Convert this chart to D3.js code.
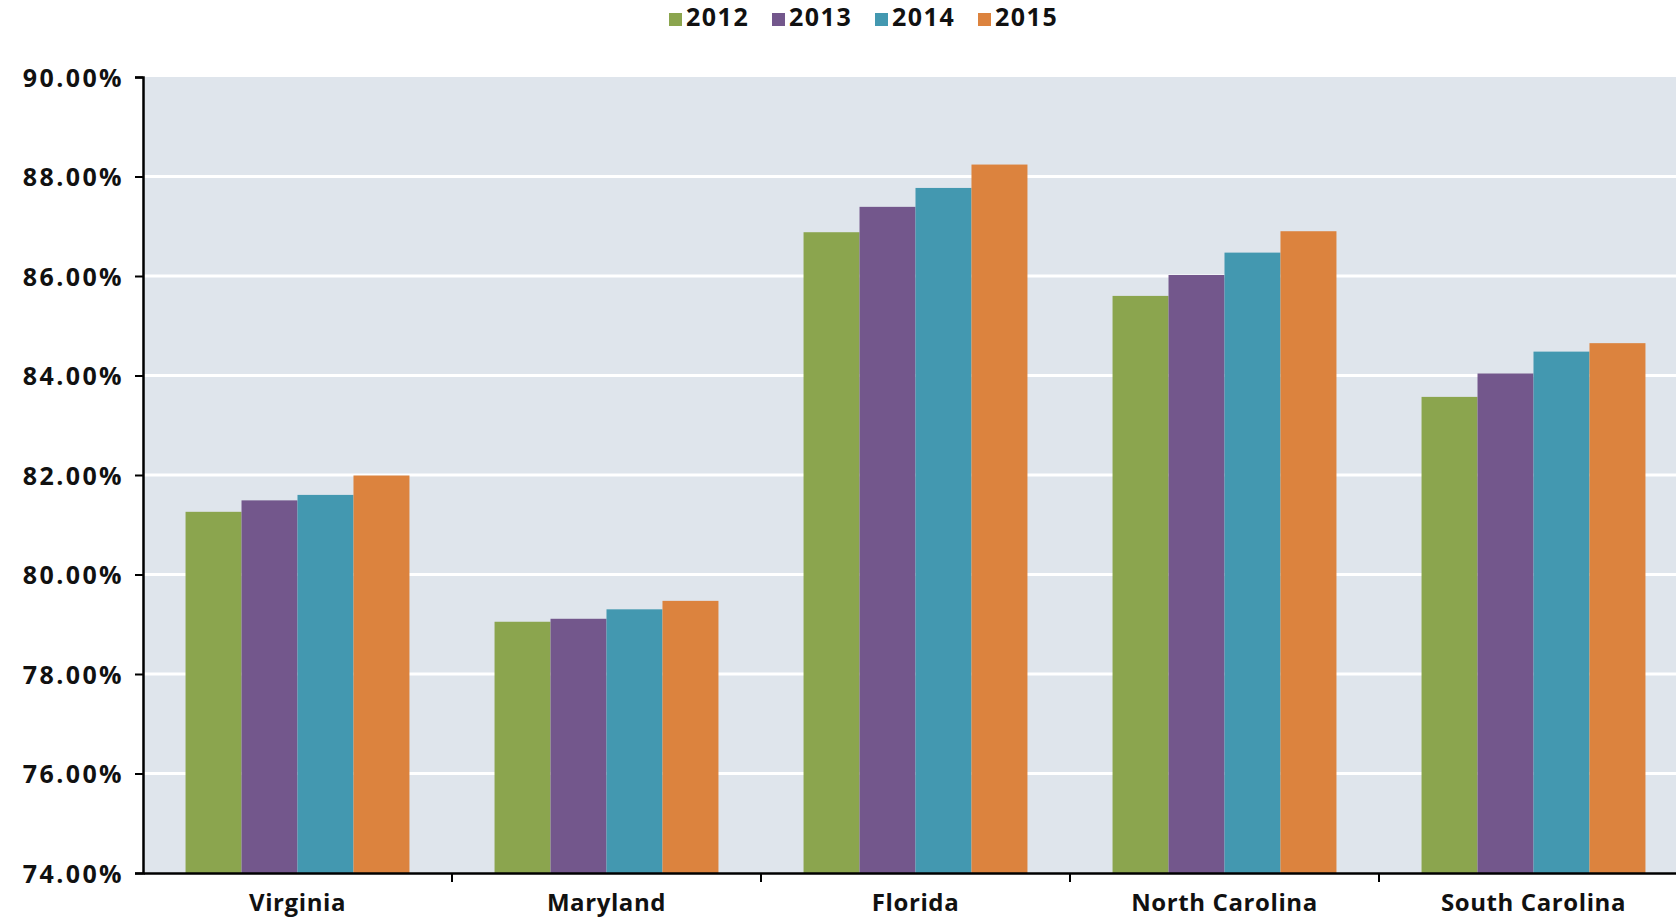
<!DOCTYPE html>
<html>
<head>
<meta charset="utf-8">
<script src="https://cdn.jsdelivr.net/npm/d3@7"></script>
<style>
  body { margin: 0; background: #fff; }
  svg { display: block; font-family: "Open Sans", "DejaVu Sans", sans-serif; }
  .tick text { font-weight: 700; fill: #111; font-family: "Open Sans", "DejaVu Sans", sans-serif; }
</style>
</head>
<body>
<svg width="1676" height="920"></svg>
<script>
var states = ["Virginia", "Maryland", "Florida", "North Carolina", "South Carolina"];
var years = ["2012", "2013", "2014", "2015"];
var v2012 = [81.26, 79.05, 86.88, 85.60, 83.57];
var v2013 = [81.49, 79.11, 87.39, 86.02, 84.04];
var v2014 = [81.60, 79.30, 87.77, 86.47, 84.48];
var v2015 = [81.99, 79.47, 88.24, 86.90, 84.65];
var yTicks = [74, 76, 78, 80, 82, 84, 86, 88, 90];
var colors = ["#8ba54e", "#73578c", "#4398b0", "#dc833e"];

var series = [v2012, v2013, v2014, v2015];

(function () {
    var svg = d3.select("svg"),
        mLeft = 143, mTop = 77, mBottom = 873, mRight = 1688;

    var x = d3.scaleBand().domain(states).range([mLeft, mRight]).padding(0);
    var xi = d3.scaleBand().domain(years).range([0, x.bandwidth()]).paddingInner(0).paddingOuter(0.76);
    var y = d3.scaleLinear().domain([74, 90]).range([mBottom, mTop]);
    var color = d3.scaleOrdinal().domain(years).range(colors);

    // plot background
    svg.append("rect")
        .attr("x", mLeft).attr("y", mTop)
        .attr("width", mRight - mLeft).attr("height", mBottom - mTop)
        .attr("fill", "#dfe5ec");

    // gridlines
    svg.append("g")
        .selectAll("line")
        .data(yTicks.slice(1, -1))
        .enter().append("line")
        .attr("x1", mLeft).attr("x2", mRight)
        .attr("y1", function (d) { return y(d); })
        .attr("y2", function (d) { return y(d); })
        .attr("stroke", "#fff")
        .attr("stroke-width", 3);

    // bars
    var group = svg.append("g")
        .selectAll("g")
        .data(states)
        .enter().append("g")
        .attr("transform", function (d) { return "translate(" + x(d) + ",0)"; });

    group.selectAll("rect")
        .data(function (d, i) {
            return years.map(function (yr, j) { return {year: yr, value: series[j][i]}; });
        })
        .enter().append("rect")
        .attr("x", function (d) { return xi(d.year); })
        .attr("width", xi.bandwidth())
        .attr("y", function (d) { return y(d.value); })
        .attr("height", function (d) { return mBottom - y(d.value); })
        .attr("fill", function (d) { return color(d.year); });

    // y axis
    var yAxis = svg.append("g")
        .attr("transform", "translate(" + mLeft + ",0)")
        .call(d3.axisLeft(y).tickValues(yTicks).tickSize(8).tickPadding(11)
            .tickFormat(function (d) { return d3.format(".2f")(d) + "%"; }));
    yAxis.attr("font-family", null);
    yAxis.select(".domain").attr("stroke", "#000").attr("stroke-width", 2.5);
    yAxis.selectAll(".tick line").attr("stroke", "#000").attr("stroke-width", 2);
    yAxis.selectAll(".tick text")
        .style("font-size", "25px")
        .style("letter-spacing", "2.4px")
        .attr("dy", "0.36em");

    // x axis
    var xAxis = svg.append("g")
        .attr("transform", "translate(0," + mBottom + ")")
        .call(d3.axisBottom(x).tickSize(0).tickPadding(21));
    xAxis.attr("font-family", null);
    xAxis.select(".domain").attr("stroke", "#000").attr("stroke-width", 2.5);
    xAxis.selectAll(".tick text")
        .style("font-size", "24px")
        .style("letter-spacing", "0.6px");

    svg.append("g")
        .selectAll("line")
        .data(states.slice(1))
        .enter().append("line")
        .attr("x1", function (d) { return x(d); })
        .attr("x2", function (d) { return x(d); })
        .attr("y1", mBottom)
        .attr("y2", mBottom + 9)
        .attr("stroke", "#000")
        .attr("stroke-width", 2);

    // legend
    var legendX = [669, 772, 875, 978];
    var legend = svg.append("g")
        .selectAll("g")
        .data(years)
        .enter().append("g")
        .attr("transform", function (d, i) { return "translate(" + legendX[i] + ",13)"; });
    legend.append("rect")
        .attr("width", 13).attr("height", 13)
        .attr("fill", function (d) { return color(d); });
    legend.append("text")
        .attr("x", 17).attr("y", 13)
        .style("font-size", "25px").style("font-weight", 700)
        .style("letter-spacing", "1.5px")
        .attr("fill", "#111")
        .text(function (d) { return d; });
})();
</script>
</body>
</html>
